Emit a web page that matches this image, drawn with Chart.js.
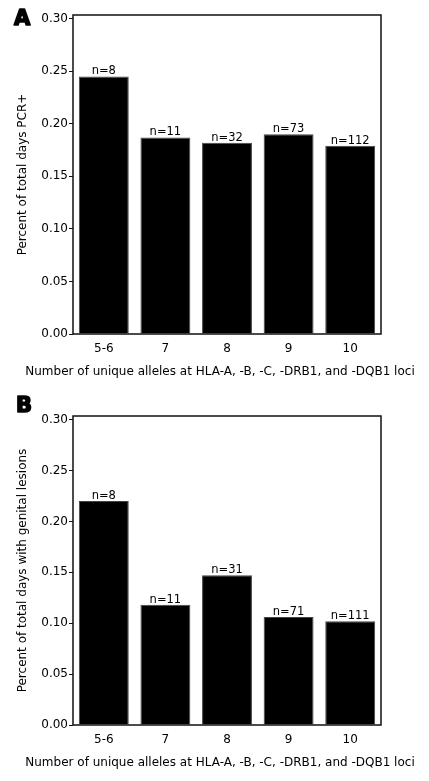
<!DOCTYPE html>
<html>
<head>
<meta charset="utf-8">
<script src="https://cdn.jsdelivr.net/npm/chart.js@4"></script>
<style>
  html,body{margin:0;padding:0;background:#fff;}
  .wrap{position:relative;width:429px;}
  canvas{display:block;}
</style>
</head>
<body>
<div class="wrap"><canvas id="chartA" width="429" height="390"></canvas></div>
<div class="wrap"><canvas id="chartB" width="429" height="391"></canvas></div>
<script>
/* chart data */
const categories=['5-6','7','8','9','10'];
const pcrValues=[0.245,0.187,0.182,0.190,0.179];
const pcrCounts=['n=8','n=11','n=32','n=73','n=112'];
const lesionValues=[0.220,0.118,0.147,0.106,0.102];
const lesionCounts=['n=8','n=11','n=31','n=71','n=111'];
const yTickValues=[0,0.05,0.10,0.15,0.20,0.25,0.30];
const yTickLabels=['0.00','0.05','0.10','0.15','0.20','0.25','0.30'];
const xTitle='Number of unique alleles at HLA-A, -B, -C, -DRB1, and -DQB1 loci';

const FONT="'DejaVu Sans', Verdana, sans-serif";

// box, panel letter, n= labels and the wide x title (wider than the plot, so drawn here)
const decor={
  id:'decor',
  afterDraw(chart,args,opts){
    const {ctx,chartArea:a}=chart;
    ctx.save();
    ctx.strokeStyle='#111'; ctx.lineWidth=1.5;
    ctx.strokeRect(a.left,a.top,a.right-a.left,a.bottom-a.top);
    ctx.fillStyle='#000';
    ctx.font='11.5px '+FONT;
    ctx.textAlign='center'; ctx.textBaseline='alphabetic';
    const meta=chart.getDatasetMeta(0);
    meta.data.forEach((bar,i)=>{ ctx.fillText(opts.counts[i],bar.x,bar.y-2); });
    ctx.font='12px '+FONT;
    ctx.textBaseline='middle';
    ctx.fillText(xTitle,220,a.bottom+38);
    // heavy panel letter
    ctx.font='bold 21px '+FONT;
    ctx.textAlign='left'; ctx.textBaseline='top';
    ctx.strokeStyle='#000'; ctx.lineWidth=1.6; ctx.lineJoin='round';
    ctx.fillText(opts.letter,opts.lx,opts.ly);
    ctx.strokeText(opts.letter,opts.lx,opts.ly);
    ctx.restore();
  }
};

function makeChart(id,values,counts,yTitle,letter,top,lx,ly){
  return new Chart(document.getElementById(id),{
    type:'bar',
    data:{labels:categories,datasets:[{data:values,backgroundColor:'#000',borderColor:'#444',borderWidth:1,
      categoryPercentage:1,barPercentage:0.81}]},
    options:{
      responsive:false,animation:false,
      layout:{padding:{left:0,right:48,top:top,bottom:0}},
      plugins:{legend:{display:false},tooltip:{enabled:false},
        decor:{counts:counts,letter:letter,lx:lx,ly:ly}},
      scales:{
        x:{
          grid:{display:false},
          border:{display:false},
          ticks:{color:'#000',font:{family:FONT,size:12},padding:0},
          afterFit(s){ s.height=56; }
        },
        y:{
          min:0,max:0.3035,
          grid:{display:true,drawOnChartArea:false,drawTicks:true,tickLength:4,color:'#111',lineWidth:1},
          border:{display:false},
          ticks:{color:'#000',font:{family:FONT,size:12},padding:1,callback:(v,i)=>yTickLabels[i]},
          afterBuildTicks(s){ s.ticks=yTickValues.map(v=>({value:v})); },
          title:{display:true,text:yTitle,color:'#000',font:{family:FONT,size:12},padding:{top:16,bottom:0}},
          afterFit(s){ s.width=73; }
        }
      }
    },
    plugins:[decor]
  });
}

makeChart('chartA',pcrValues,pcrCounts,'Percent of total days PCR+','A',15,14,9);
makeChart('chartB',lesionValues,lesionCounts,'Percent of total days with genital lesions','B',26,16,6);
</script>
</body>
</html>
